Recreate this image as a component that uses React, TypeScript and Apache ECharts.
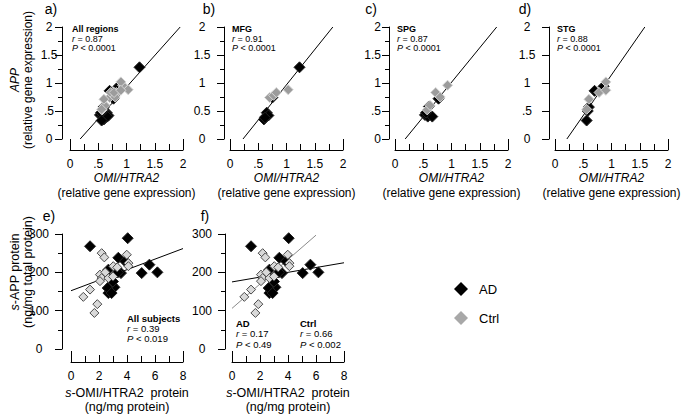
import React, { useEffect, useRef } from 'react';
import * as echarts from 'echarts';

const mfgAD = [[0.60, 0.35], [0.63, 0.40], [0.65, 0.47], [0.68, 0.42], [0.62, 0.38], [0.75, 0.74], [1.23, 1.28]];
const mfgCtrl = [[0.70, 0.74], [0.77, 0.78], [0.82, 0.83], [1.03, 0.88]];
const spgAD = [[0.53, 0.43], [0.58, 0.40], [0.66, 0.40], [0.60, 0.58], [0.77, 0.72], [0.55, 0.47]];
const spgCtrl = [[0.57, 0.52], [0.62, 0.60], [0.72, 0.83], [0.80, 0.75], [0.93, 0.96]];
const stgAD = [[0.56, 0.33], [0.58, 0.50], [0.60, 0.57], [0.70, 0.86], [0.86, 0.94]];
const stgCtrl = [[0.56, 0.53], [0.60, 0.71], [0.78, 0.83], [0.90, 1.02], [0.90, 0.87]];
const allAD = [...mfgAD, ...spgAD, ...stgAD];
const allCtrl = [...mfgCtrl, ...spgCtrl, ...stgCtrl];

const proteinAD = [[1.36, 268], [4.05, 289], [3.38, 238], [3.86, 229], [2.67, 207], [3.57, 198], [3.35, 200], [5.05, 198], [5.6, 220], [6.17, 200], [2.9, 168], [2.79, 155], [2.67, 146], [3.1, 161], [2.62, 159], [2.9, 146], [3.0, 176]];
const proteinCtrl = [[2.19, 250], [2.38, 239], [3.98, 246], [4.1, 224], [4.1, 216], [3.02, 216], [2.07, 194], [2.19, 185], [2.67, 185], [3.0, 189], [2.07, 177], [1.36, 155], [0.88, 136], [1.88, 117], [1.67, 94], [3.3, 213], [2.45, 200]];

const fitAll = [[0.18, 0], [1.95, 2]];
const fitMFG = [[0.23, 0], [1.82, 2]];
const fitSPG = [[0.18, 0], [1.80, 2]];
const fitSTG = [[0.21, 0], [1.59, 2]];
const fitSubjects = [[0, 152], [8, 262]];
const fitAD = [[0, 175], [8, 225]];
const fitCtrl = [[0, 106], [6.0, 297]];

const geneTicks = ['0', '.5', '1', '1.5', '2'];
const panelLetters = ['a)', 'b)', 'c)', 'd)', 'e)', 'f)'];
const regionNames = ['All regions', 'MFG', 'SPG', 'STG'];
const regionR = ['0.87', '0.91', '0.87', '0.88'];
const regionP = ['0.0001', '0.0001', '0.0001', '0.0001'];

const FF = '"Liberation Sans", Arial, Helvetica, sans-serif';

const geneFmt = (v: any) => {
  const k = Math.round(Number(v) * 2);
  return k >= 0 && k < geneTicks.length ? geneTicks[k] : String(v);
};

export default function App() {
  const ref = useRef<HTMLDivElement>(null);
  useEffect(() => {
    if (!ref.current) return;
    const chart = echarts.init(ref.current, undefined, { renderer: 'svg' });

    const geneLeft = [70, 230, 395, 555];
    const geneYOff = [8, 6, 6, 6];
    const geneYMargin = [13, 22, 22, 22];
    const protLeft = [71, 232];
    const protYOff = [9, 7];

    const grids: any[] = [];
    geneLeft.forEach((l) => grids.push({ left: l, top: 27, width: 113, height: 112 }));
    protLeft.forEach((l) => grids.push({ left: l, top: 234, width: 112, height: 115 }));

    const black = { color: '#000' };
    const xAxes: any[] = [];
    const yAxes: any[] = [];
    for (let i = 0; i < 6; i++) {
      const gene = i < 4;
      const max = gene ? 2 : 8;
      xAxes.push({
        gridIndex: i, type: 'value', position: 'bottom', min: 0, max, interval: gene ? 0.5 : 2,
        offset: gene ? 11 : 13,
        axisLine: { show: true, onZero: false, lineStyle: black },
        axisTick: { show: true, inside: true, length: 7, lineStyle: black },
        minorTick: { show: true, splitNumber: 2, length: 6, lineStyle: black },
        splitLine: { show: false }, minorSplitLine: { show: false },
        axisLabel: { show: true, color: '#000', fontSize: 12, fontFamily: FF, margin: 8, formatter: gene ? geneFmt : '{value}' },
      });
    }
    for (let i = 0; i < 6; i++) {
      const gene = i < 4;
      const y: any = {
        gridIndex: i, type: 'value', position: 'left', min: 0, max: gene ? 2 : 300, interval: gene ? 0.5 : 100,
        offset: gene ? geneYOff[i] : protYOff[i - 4],
        axisLine: { show: true, onZero: false, lineStyle: black },
        axisTick: { show: true, inside: false, length: 7, lineStyle: black },
        minorTick: { show: true, splitNumber: 2, length: 4, lineStyle: black },
        splitLine: { show: false }, minorSplitLine: { show: false },
        axisLabel: { show: true, color: '#000', fontSize: 12, fontFamily: FF, align: 'center', margin: gene ? geneYMargin[i] : 23, formatter: gene ? geneFmt : '{value}' },
      };
      if (i === 1) delete y.axisLabel.formatter;
      if (i === 2) { delete y.axisLabel.align; y.axisLabel.margin = 8; }
      if (i === 3) { y.minorTick = { show: false }; }
      if (i === 0) { y.max = 2.0001; }
      yAxes.push(y);
    }
    for (let i = 0; i < 6; i++) {
      const gene = i < 4;
      const max = gene ? 2 : 8;
      xAxes.push({
        gridIndex: i, type: 'value', position: 'bottom', min: 0, max, interval: max,
        offset: gene ? 11 : 13,
        axisLine: { show: false, onZero: false },
        axisTick: { show: true, inside: true, length: 11, lineStyle: black },
        axisLabel: { show: false }, splitLine: { show: false },
      });
    }

    const scatter = (name: string, data: number[][], idx: number, color: string, size: number, border: string) => ({
      type: 'scatter', name, data, xAxisIndex: idx, yAxisIndex: idx, symbol: 'diamond', symbolSize: size,
      itemStyle: { color, borderColor: border, borderWidth: 1, opacity: 1 }, silent: true, z: 3,
    });
    const fit = (data: number[][], idx: number, color: string) => ({
      type: 'line', data, xAxisIndex: idx, yAxisIndex: idx, symbol: 'none', silent: true, z: 2,
      lineStyle: { color, width: 1 },
    });

    const GRAY = '#9c9c9c';
    const GRAYB = '#d6d6d6';
    const series: any[] = [
      fit(fitAll, 0, '#000'), fit(fitMFG, 1, '#000'), fit(fitSPG, 2, '#000'), fit(fitSTG, 3, '#000'),
      fit(fitSubjects, 4, '#000'), fit(fitAD, 5, '#000'), fit(fitCtrl, 5, '#8a8a8a'),
    ];
    const genePairs = [[allAD, allCtrl], [mfgAD, mfgCtrl], [spgAD, spgCtrl], [stgAD, stgCtrl]];
    genePairs.forEach(([ad, ct], i) => {
      series.push(scatter('AD', ad, i, '#000', 11, '#222'));
      series.push(scatter('Ctrl', ct, i, GRAY, 10, GRAYB));
    });
    [4, 5].forEach((i) => {
      series.push(scatter('AD', proteinAD, i, '#000', 11, '#222'));
      series.push(scatter('Ctrl', proteinCtrl, i, '#d9d9d9', 9, '#4a4a4a'));
    });

    const t = (x: number, y: number, text: string, style: any = {}, extra: any = {}) => ({
      type: 'text', x, y, silent: true, ...extra,
      style: { text, fontSize: 12, fontFamily: FF, fill: '#000', align: 'center', verticalAlign: 'middle', ...style },
    });
    const it = (fs: number) => ({ i: { fontStyle: 'italic', fontSize: fs, fontFamily: FF, fill: '#000' }, n: { fontSize: fs, fontFamily: FF, fill: '#000' } });

    const graphics: any[] = [];
    const letterPos = [[51, 9], [209, 9], [371, 9], [525, 9], [49, 216], [205, 216]];
    panelLetters.forEach((L, i) => graphics.push(t(letterPos[i][0], letterPos[i][1], L, { fontSize: 14 })));

    geneLeft.forEach((l, i) => {
      const cx = l + 56.5;
      graphics.push(t(cx, 178, 'OMI/HTRA2', { fontStyle: 'italic' }));
      graphics.push(t(cx, 193, '(relative gene expression)'));
      const ax = i === 0 ? 72 : l + 2;
      graphics.push(t(ax, 29, regionNames[i], { fontSize: 9, fontWeight: 'bold', align: 'left' }));
      graphics.push(t(ax, 38.5, '{i|r}{n| = ' + regionR[i] + '}', { fontSize: 9, align: 'left', rich: it(9) }));
      graphics.push(t(ax, 48, '{i|P}{n| < ' + regionP[i] + '}', { fontSize: 9, align: 'left', rich: it(9) }));
    });
    graphics.push(t(15, 80, 'APP', { fontStyle: 'italic' }, { rotation: Math.PI / 2 }));
    graphics.push(t(28, 80, '(relative gene expression)', {}, { rotation: Math.PI / 2 }));

    protLeft.forEach((l) => {
      const cx = l + 56;
      graphics.push(t(cx, 393, '{i|s}{n|-OMI/HTRA2  protein}', { rich: it(12.5) }));
      graphics.push(t(cx, 407, '(ng/mg protein)', { fontSize: 12.5 }));
    });
    graphics.push(t(15, 272, '{i|s}{n|-APP protein}', { rich: it(12.5) }, { rotation: Math.PI / 2 }));
    graphics.push(t(28, 272, '(ng/mg total protein)', { fontSize: 12.5 }, { rotation: Math.PI / 2 }));

    graphics.push(t(127, 318, 'All subjects', { fontSize: 9.5, fontWeight: 'bold', align: 'left' }));
    graphics.push(t(127, 328, '{i|r}{n| = 0.39}', { align: 'left', rich: it(9.5) }));
    graphics.push(t(127, 338, '{i|P}{n| < 0.019}', { align: 'left', rich: it(9.5) }));

    graphics.push(t(236, 323, 'AD', { fontSize: 9.5, fontWeight: 'bold', align: 'left' }));
    graphics.push(t(236, 333, '{i|r}{n| = 0.17}', { align: 'left', rich: it(9.5) }));
    graphics.push(t(236, 344, '{i|P}{n| < 0.49}', { align: 'left', rich: it(9.5) }));
    graphics.push(t(300, 323, 'Ctrl', { fontSize: 9.5, fontWeight: 'bold', align: 'left' }));
    graphics.push(t(300, 333, '{i|r}{n| = 0.66}', { align: 'left', rich: it(9.5) }));
    graphics.push(t(300, 344, '{i|P}{n| < 0.002}', { align: 'left', rich: it(9.5) }));

    chart.setOption({
      animation: false,
      backgroundColor: '#fff',
      grid: grids,
      xAxis: xAxes,
      yAxis: yAxes,
      legend: {
        left: 449, top: 277, orient: 'vertical', itemGap: 15, itemWidth: 14, itemHeight: 14,
        icon: 'diamond', selectedMode: false,
        textStyle: { fontSize: 13, color: '#000', fontFamily: FF, padding: [0, 0, 0, 6] },
        data: [
          { name: 'AD', itemStyle: { color: '#000', borderWidth: 0 } },
          { name: 'Ctrl', itemStyle: { color: '#a8a8a8', borderWidth: 0 } },
        ],
      },
      graphic: graphics,
      series,
    });
    return () => chart.dispose();
  }, []);
  return <div ref={ref} style={{ width: 682, height: 414, position: 'absolute', left: 0, top: 0 }} />;
}
